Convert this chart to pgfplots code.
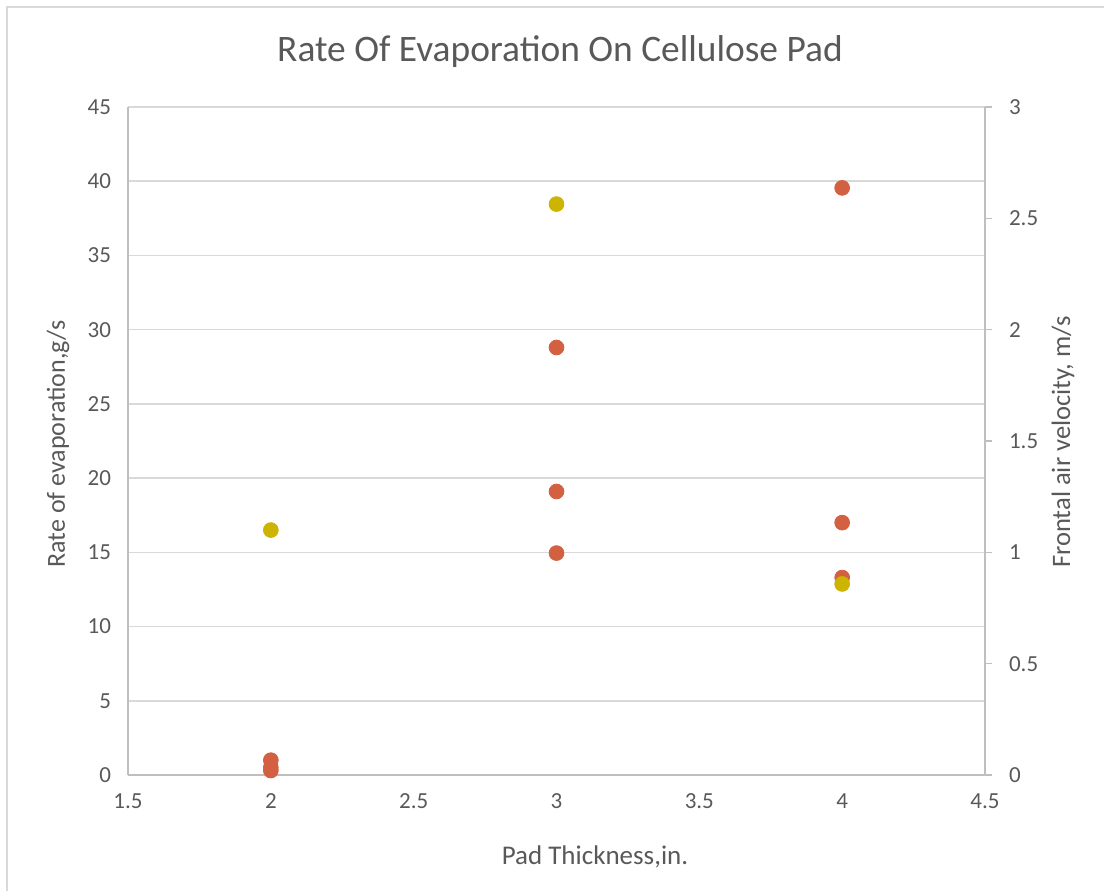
\documentclass[border=0pt]{standalone}
\usepackage{fontspec}
\setmainfont{Carlito}
\usepackage{pgfplots}
\pgfplotsset{compat=1.18}
\definecolor{txt}{RGB}{89,89,89}
\definecolor{gridc}{RGB}{217,217,217}
\definecolor{axc}{RGB}{191,191,191}
\definecolor{orng}{RGB}{212,96,66}
\definecolor{gold}{RGB}{204,180,0}
\begin{document}
\begin{tikzpicture}[x=1pt,y=1pt]
\useasboundingbox (0,0) rectangle (552,445);
\draw[gridc,line width=0.8pt] (3.5,-20) rectangle (600,441.5);
\begin{axis}[
  at={(64pt,57.5pt)}, anchor=south west,
  scale only axis, width=428.5pt, height=334pt,
  xmin=1.5, xmax=4.5, ymin=0, ymax=45,
  xtick={1.5,2,...,4.5}, ytick={0,5,...,45},
  axis lines=left, axis line style={-, draw=axc, line width=0.8pt},
  ymajorgrids, grid style={gridc, line width=0.8pt},
  major tick length=0pt,
  tick label style={font=\fontsize{11.5}{13}\selectfont, text=txt},
  /pgf/number format/assume math mode=true,
  yticklabel style={xshift=-5pt},
  xticklabel style={yshift=-6pt},
  clip=false,
]
\addplot[only marks, mark=*, mark size=3.7pt, mark options={draw=orng, fill=orng}]
  coordinates {(2,1.0) (2,0.5) (2,0.3) (3,28.8) (3,19.1) (3,14.95) (4,39.55) (4,17.0) (4,13.3)};
\end{axis}
\begin{axis}[
  at={(64pt,57.5pt)}, anchor=south west,
  scale only axis, width=428.5pt, height=334pt,
  xmin=1.5, xmax=4.5, ymin=0, ymax=3,
  ytick={0,0.5,...,3},
  axis y line*=right, axis x line=none,
  axis line style={-, draw=axc, line width=0.8pt},
  major tick length=3.5pt, tick align=outside,
  tick style={draw=axc, line width=0.8pt},
  tick label style={font=\fontsize{11.5}{13}\selectfont, text=txt},
  /pgf/number format/assume math mode=true,
  yticklabel style={xshift=5pt},
  clip=false,
]
\addplot[only marks, mark=*, mark size=3.7pt, mark options={draw=gold, fill=gold}]
  coordinates {(2,1.10) (3,2.564) (4,0.858)};
\end{axis}
\node[text=txt, font=\fontsize{18.7}{22}\selectfont] at (280,419) {Rate Of Evaporation On Cellulose Pad};
\node[text=txt, font=\fontsize{13.5}{16}\selectfont] at (297.5,16.5) {Pad Thickness,in.};
\node[text=txt, font=\fontsize{13}{16}\selectfont, rotate=90] at (29,223) {Rate of evaporation,g/s};
\node[text=txt, font=\fontsize{13.3}{16}\selectfont, rotate=90] at (531.5,224) {Frontal air velocity, m/s};
\end{tikzpicture}
\end{document}
